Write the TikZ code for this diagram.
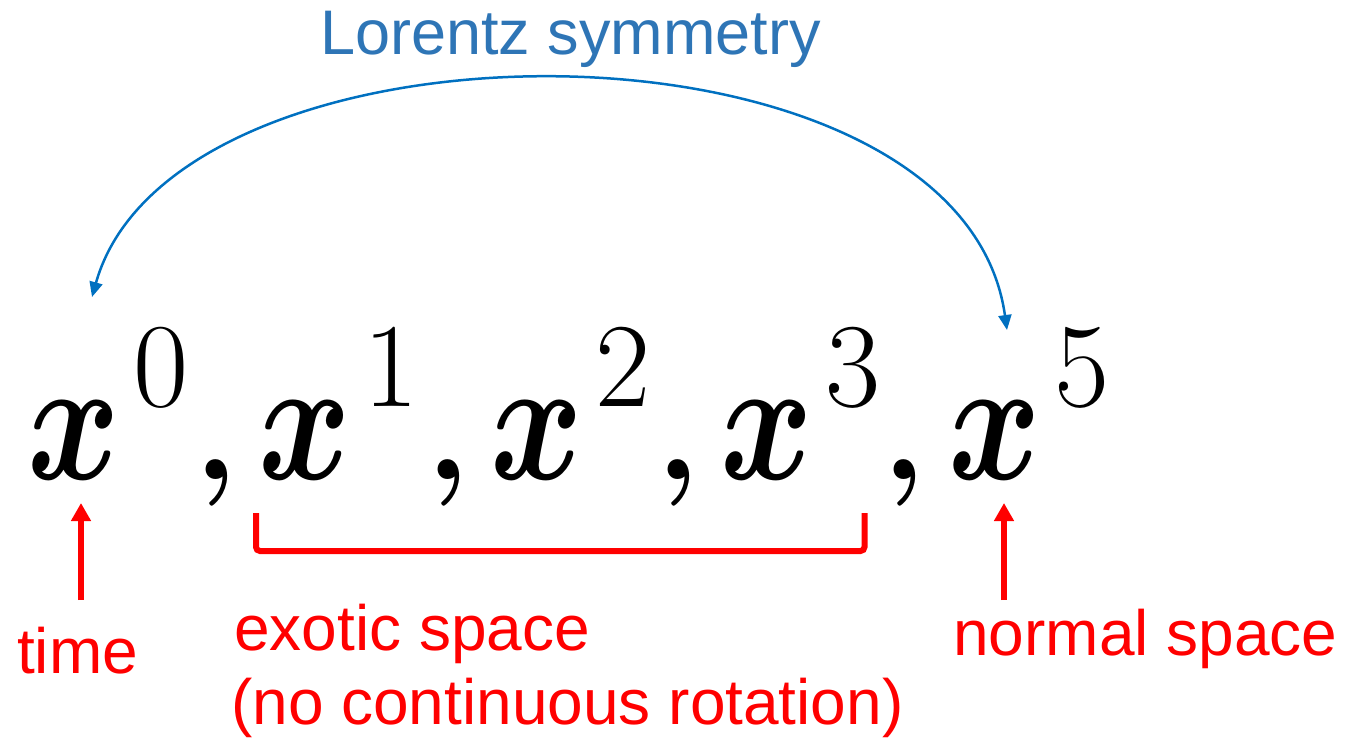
\RequirePackage{fix-cm}
\documentclass[tikz,border=0pt]{standalone}
\usepackage{fontspec}
\usepackage{bm}
\usetikzlibrary{arrows.meta}
\newfontfamily\arialf{Liberation Sans}
\definecolor{lblue}{RGB}{46,117,182}
\definecolor{arcblue}{RGB}{0,112,192}
\definecolor{pred}{RGB}{255,0,0}
\newcommand{\bigxglyph}{\scalebox{0.8}[1]{$\bm{x}$}}
\begin{document}
\begin{tikzpicture}[x=1pt,y=-1pt,
  bigx/.style={inner sep=0pt, anchor=base, font=\fontsize{176}{176}\selectfont},
  supd/.style={inner sep=0pt, anchor=base, font=\fontsize{120}{120}\selectfont},
  cma/.style={inner sep=0pt, anchor=base, font=\fontsize{138}{138}\selectfont\bfseries},
  lbl/.style={inner sep=0pt, anchor=base west, text=pred, font=\arialf\fontsize{64}{64}\selectfont},
  redarr/.style={draw=pred, line width=6pt, -{Triangle[length=18pt,width=19pt]}},
  bluearc/.style={draw=arcblue, line width=2.5pt, {Triangle[length=15pt,width=13pt]}-{Triangle[length=15pt,width=13pt]}}]
\useasboundingbox (0,0) rectangle (1345,738);
% title
\node[inner sep=0pt, anchor=base west, text=lblue, font=\arialf\fontsize{63}{63}\selectfont] (title) at (320,55) {Lorentz symmetry};
% formula
\node[bigx] (x0) at (73.5,479) {\bigxglyph};
\node[supd] (s0) at (161.5,406) {0};
\node[cma]  (c0) at (216.5,479) {,};
\node[bigx] (x1) at (305,479) {\bigxglyph};
\node[supd] (s1) at (391,406) {1};
\node[cma]  (c1) at (448.5,479) {,};
\node[bigx] (x2) at (537,479) {\bigxglyph};
\node[supd] (s2) at (623,406) {2};
\node[cma]  (c2) at (678.5,479) {,};
\node[bigx] (x3) at (767,479) {\bigxglyph};
\node[supd] (s3) at (853,406) {3};
\node[cma]  (c3) at (904.5,479) {,};
\node[bigx] (x5) at (995,479) {\bigxglyph};
\node[supd] (s5) at (1082,406) {5};
% labels
\node[lbl] (time) at (17,673) {time};
\node[lbl] (exo1) at (234,650) {exotic space};
\node[lbl] (exo2) at (231,724) {(no continuous rotation)};
\node[lbl] (norm) at (953,655) {normal space};
% red arrows
\coordinate (ta) at (81,600);
\coordinate (tb) at (81,503);
\coordinate (na) at (1004,600);
\coordinate (nb) at (1004,503);
\draw[redarr] (ta) -- (tb);
\draw[redarr] (na) -- (nb);
% bracket
\coordinate (b1) at (256,513);
\coordinate (b2) at (256,551);
\coordinate (b3) at (864.5,551);
\coordinate (b4) at (864.5,513);
\draw[draw=pred, line width=6pt, rounded corners=4pt] (b1) -- (b2) -- (b3) -- (b4);
% Lorentz arc
\coordinate (la) at (92,297);
\coordinate (lb) at (1007,330);
\draw[bluearc] (la) .. controls (175,2) and (961,2) .. (lb);
\end{tikzpicture}
\end{document}
